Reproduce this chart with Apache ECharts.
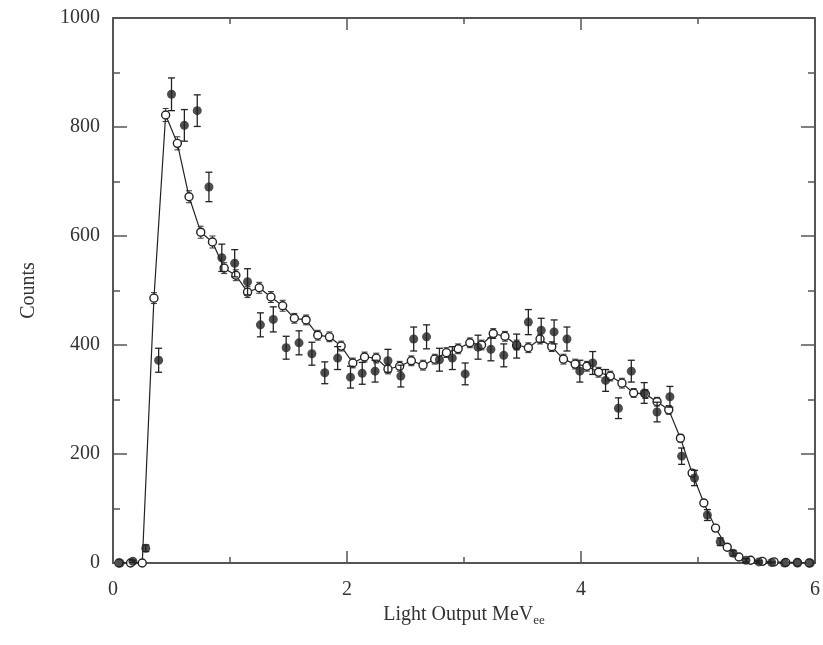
<!DOCTYPE html>
<html>
<head>
<meta charset="utf-8">
<script src="https://cdn.jsdelivr.net/npm/echarts@6/dist/echarts.min.js"></script>
<style>
html,body{margin:0;padding:0;background:#fff;}
#c{width:823px;height:645px;}
</style>
</head>
<body>
<div id="c"></div>
<script>
// Simulation (open circles, joined by a line)
const simX = [0.05,0.15,0.25,0.35,0.45,0.55,0.65,0.75,0.85,0.95,
              1.05,1.15,1.25,1.35,1.45,1.55,1.65,1.75,1.85,1.95,
              2.05,2.15,2.25,2.35,2.45,2.55,2.65,2.75,2.85,2.95,
              3.05,3.15,3.25,3.35,3.45,3.55,3.65,3.75,3.85,3.95,
              4.05,4.15,4.25,4.35,4.45,4.55,4.65,4.75,4.85,4.95,
              5.05,5.15,5.25,5.35,5.45,5.55,5.65,5.75,5.85,5.95];
const simY = [0,0,0,486,822,770,672,607,589,541,
              528,497,505,488,472,449,446,418,415,398,
              367,378,376,356,361,371,363,374,386,393,
              404,400,421,416,400,395,411,397,374,365,
              361,350,343,330,312,310,296,281,229,165,
              110,64,29,11,5,3,2,1,1,0];
const simErr = [0,0,0,10,12,12,11,11,11,10,
                10,10,10,10,10,9,9,9,9,9,
                9,9,9,9,9,9,9,9,9,9,
                9,9,9,9,9,9,9,9,9,9,
                9,9,9,9,8,8,8,8,7,6,
                5,4,3,2,1,1,1,0,0,0];

// Measured data (filled circles with error bars)
const dataX = [0.06,0.17,0.28,0.39,0.50,0.61,0.72,0.82,0.93,1.04,
               1.15,1.26,1.37,1.48,1.59,1.70,1.81,1.92,2.03,2.13,
               2.24,2.35,2.46,2.57,2.68,2.79,2.90,3.01,3.12,3.23,
               3.34,3.45,3.55,3.66,3.77,3.88,3.99,4.10,4.21,4.32,
               4.43,4.54,4.65,4.76,4.86,4.97,5.08,5.19,5.30,5.41,
               5.52,5.63,5.74,5.85,5.96];
const dataY = [0,3,27,372,860,803,830,690,560,550,
               516,437,447,395,404,384,349,376,341,348,
               352,371,343,411,415,373,376,347,396,392,
               381,398,442,427,424,411,352,367,335,284,
               352,312,277,305,196,156,88,39,18,5,
               2,1,0,0,0];
const dataErr = [0,2,6,22,30,29,29,27,25,25,
                 24,22,23,21,22,21,20,21,20,20,
                 20,21,20,22,22,21,21,20,22,21,
                 21,22,23,22,22,22,20,21,20,19,
                 20,19,18,19,15,14,10,7,5,3,
                 2,1,0,0,0];

const FONT = 'Liberation Serif';
const sim = simX.map((x,i)=>[x, simY[i]]);
const simBars = simX.map((x,i)=>[x, simY[i]-simErr[i], simY[i]+simErr[i]]);
const dat = dataX.map((x,i)=>[x, dataY[i]]);
const datBars = dataX.map((x,i)=>[x, dataY[i]-dataErr[i], dataY[i]+dataErr[i]]);

function errRender(cap, color, width){
  return function(params, api){
    const x = api.value(0);
    const lo = api.coord([x, api.value(1)]);
    const hi = api.coord([x, api.value(2)]);
    if (Math.abs(hi[1]-lo[1]) < 1) return null;
    const st = {stroke: color, lineWidth: width};
    return {type:'group', children:[
      {type:'line', shape:{x1:lo[0], y1:lo[1], x2:hi[0], y2:hi[1]}, style:st},
      {type:'line', shape:{x1:lo[0]-cap, y1:lo[1], x2:lo[0]+cap, y2:lo[1]}, style:st},
      {type:'line', shape:{x1:hi[0]-cap, y1:hi[1], x2:hi[0]+cap, y2:hi[1]}, style:st}
    ]};
  };
}

const axisCol = '#555';
function xAx(pos, labels){
  return {
    type:'value', position:pos, min:0, max:6, interval:2,
    axisLine:{show:true, onZero:false, lineStyle:{color:axisCol, width:2}},
    axisTick:{show:true, inside:true, length:12, lineStyle:{color:axisCol, width:1.5}},
    minorTick:{show:true, splitNumber:2, length:6, lineStyle:{color:axisCol, width:1.5}},
    splitLine:{show:false}, minorSplitLine:{show:false},
    axisLabel:{show:labels, fontFamily:FONT, fontSize:20, color:'#333', margin:17,
               formatter:(v)=>String(v)},
    name: labels ? '{a|Light Output MeV}{b|ee}' : '',
    nameLocation:'middle', nameGap:31,
    nameTextStyle:{rich:{
      a:{fontFamily:FONT, fontSize:20, color:'#333'},
      b:{fontFamily:FONT, fontSize:13, color:'#333', padding:[12,0,0,0]}
    }}
  };
}
function yAx(pos, labels){
  return {
    type:'value', position:pos, min:0, max:1000, interval:200,
    axisLine:{show:true, onZero:false, lineStyle:{color:axisCol, width:2}},
    axisTick:{show:true, inside:true, length:14, lineStyle:{color:axisCol, width:1.5}},
    minorTick:{show:true, splitNumber:2, length:7, lineStyle:{color:axisCol, width:1.5}},
    splitLine:{show:false}, minorSplitLine:{show:false},
    axisLabel:{show:labels, fontFamily:FONT, fontSize:20, color:'#333', margin:13,
               formatter:(v)=>String(v)},
    name: labels ? 'Counts' : '',
    nameLocation:'middle', nameGap:74, nameRotate:90,
    nameTextStyle:{fontFamily:FONT, fontSize:20, color:'#333'}
  };
}

const chart = echarts.init(document.getElementById('c'));
chart.setOption({
  animation:false,
  backgroundColor:'#fff',
  grid:{left:113, right:8, top:18, bottom:82},
  xAxis:[xAx('bottom', true), xAx('top', false)],
  yAxis:[yAx('left', true), yAx('right', false)],
  series:[
    {type:'custom', renderItem:errRender(3, '#333', 1), data:simBars, z:2},
    {type:'line', data:sim, symbol:'circle', symbolSize:8, showAllSymbol:true,
     lineStyle:{color:'#222', width:1.2},
     itemStyle:{color:'#fff', borderColor:'#222', borderWidth:1.4}, z:3},
    {type:'custom', renderItem:errRender(3.5, '#222', 1.3), data:datBars, z:4},
    {type:'scatter', data:dat, symbol:'circle', symbolSize:9,
     itemStyle:{color:'#222'}, z:5}
  ]
});
</script>
</body>
</html>
